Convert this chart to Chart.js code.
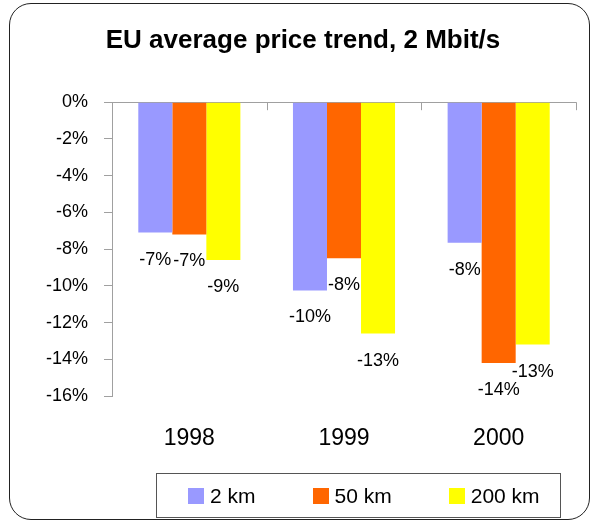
<!DOCTYPE html>
<html>
<head>
<meta charset="utf-8">
<script src="https://cdn.jsdelivr.net/npm/chart.js@4.4.0/dist/chart.umd.min.js"></script>
<style>
  body { margin: 0; background: #fff; overflow: hidden; }
  #frame { position: absolute; left: 9px; top: 3px; width: 579px; height: 515px;
           border: 1.5px solid #222; border-radius: 22px; }
  #wrap { position: absolute; left: 0; top: 0; width: 592px; height: 522px; }
  #legend { position: absolute; left: 156px; top: 473px; width: 405px; height: 45px;
            border: 1px solid #555; display: flex; align-items: center;
            padding-left: 31px; box-sizing: border-box; white-space: nowrap;
            font-family: "Liberation Sans", Arial, sans-serif;
            font-size: 21px; color: #000; }
  .item { display: flex; align-items: center; margin-right: 57px; flex: none; }
  .sw { width: 16px; height: 16px; margin-right: 6px; }
</style>
</head>
<body>
<div id="frame"></div>
<div id="wrap"><canvas id="priceChart" width="592" height="522"></canvas></div>
<div id="legend"></div>
<script>
const FONT = '"Liberation Sans", Arial, sans-serif';

const years = ['1998', '1999', '2000'];
const series = ['2 km', '50 km', '200 km'];
const colors = ['#9999FF', '#FF6600', '#FFFF00'];
const km2 = [-7.1, -10.25, -7.65];
const km50 = [-7.2, -8.5, -14.2];
const km200 = [-8.6, -12.6, -13.2];
const yTicks = [0, -2, -4, -6, -8, -10, -12, -14, -16];

const axisGray = '#A0A0A0';

// legend in a box, like the original
const legendDiv = document.getElementById('legend');
series.forEach((name, i) => {
    const item = document.createElement('div');
    item.className = 'item';
    item.innerHTML = '<div class="sw" style="background:' + colors[i] + '"></div><span>' + name + '</span>';
    legendDiv.appendChild(item);
});

// value labels under the end of each bar
const barLabels = {
    id: 'barLabels',
    afterDatasetsDraw(chart) {
        const ctx = chart.ctx;
        ctx.save();
        ctx.font = '18px ' + FONT;
        ctx.fillStyle = '#000';
        ctx.textAlign = 'center';
        ctx.textBaseline = 'middle';
        chart.data.datasets.forEach((ds, di) => {
            chart.getDatasetMeta(di).data.forEach((bar, i) => {
                ctx.fillText(Math.round(ds.data[i]) + '%', bar.x, bar.y + 27);
            });
        });
        ctx.restore();
    }
};

// small tick marks on the 0% line between categories
const catTicks = {
    id: 'catTicks',
    afterDraw(chart) {
        const xs = chart.scales.x, ys = chart.scales.y;
        const y0 = ys.getPixelForValue(0);
        const ctx = chart.ctx;
        ctx.save();
        ctx.strokeStyle = axisGray;
        ctx.lineWidth = 1;
        for (let i = 0; i <= years.length; i++) {
            const x = Math.round(xs.getPixelForValue(i - 0.5)) + 0.5;
            ctx.beginPath();
            ctx.moveTo(x, y0);
            ctx.lineTo(x, y0 + 8);
            ctx.stroke();
        }
        ctx.restore();
    }
};

const ctx = document.getElementById('priceChart').getContext('2d');
const priceChart = new Chart(ctx, {
    type: 'bar',
    data: {
        labels: years,
        datasets: [
            { label: series[0], data: km2, backgroundColor: colors[0] },
            { label: series[1], data: km50, backgroundColor: colors[1] },
            { label: series[2], data: km200, backgroundColor: colors[2] }
        ]
    },
    options: {
        responsive: false,
        animation: false,
        layout: { padding: { left: 30, right: 16, top: 0, bottom: 70 } },
        datasets: { bar: { categoryPercentage: 0.66, barPercentage: 1.0 } },
        plugins: {
            legend: { display: false },
            tooltip: { enabled: false },
            title: {
                display: true,
                text: 'EU average price trend, 2 Mbit/s',
                color: '#000',
                font: { family: FONT, size: 26, weight: 'bold' },
                padding: { top: 25, bottom: 46 }
            }
        },
        scales: {
            x: {
                afterFit(scale) { scale.height = 56; },
                grid: { display: false, drawTicks: false },
                border: { display: false },
                ticks: { color: '#000', font: { family: FONT, size: 23 }, padding: 29 }
            },
            y: {
                min: -16,
                max: 0,
                afterBuildTicks(scale) {
                    scale.ticks = yTicks.map(v => ({ value: v }));
                },
                afterFit(scale) { scale.width = 82; },
                grid: {
                    color: c => (c.tick && c.tick.value === 0 ? axisGray : 'rgba(0,0,0,0)'),
                    tickColor: axisGray,
                    tickLength: 8
                },
                border: { display: true, color: axisGray },
                ticks: {
                    color: '#000',
                    font: { family: FONT, size: 18 },
                    padding: 16,
                    callback: v => v + '%'
                }
            }
        }
    },
    plugins: [barLabels, catTicks]
});
</script>
</body>
</html>
